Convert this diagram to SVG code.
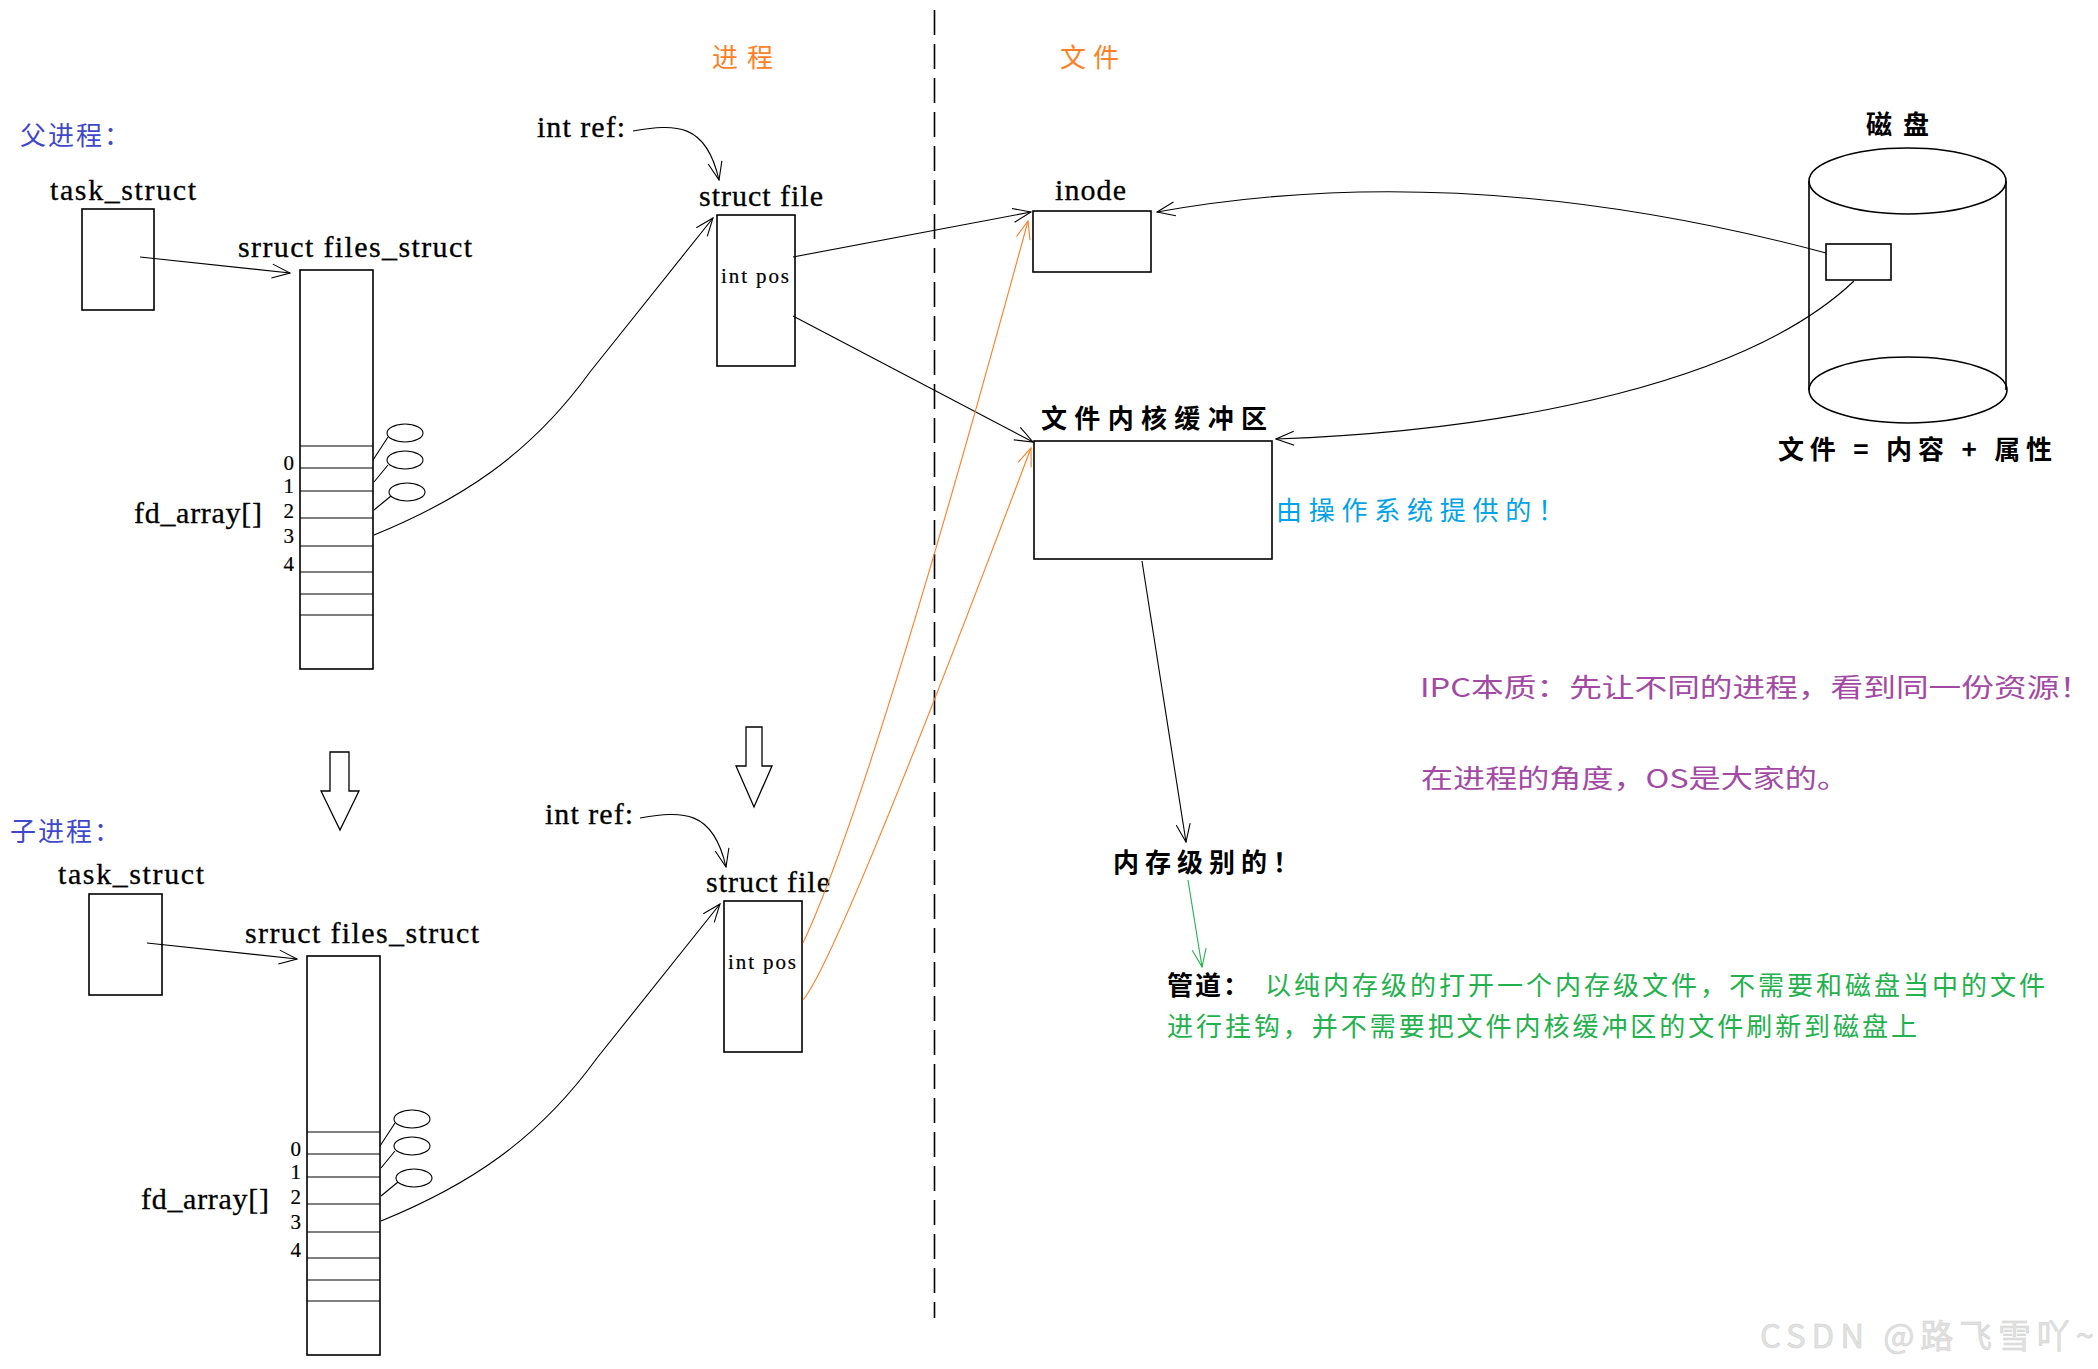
<svg xmlns="http://www.w3.org/2000/svg" width="2098" height="1369" viewBox="0 0 2098 1369">
<style>
.bx{fill:none;stroke:#000;stroke-width:1.6}
.ln{fill:none;stroke:#000;stroke-width:1.1}
.el{fill:none;stroke:#000;stroke-width:1.1}
.lat{font-family:"Liberation Serif",serif;font-size:30px;fill:#000;stroke:#000;stroke-width:0.3}
.sm{font-family:"Liberation Serif",serif;font-size:21px;fill:#000;stroke:#000;stroke-width:0.2}
.cj{font-family:"Noto Sans CJK SC",sans-serif;font-size:26px}
.blk{fill:#000}
.ind{fill:#3f48cc}
.org{fill:#ff7f27}
.cyan{fill:#00a2e8}
.pur{fill:#a349a4}
.grn{fill:#22b14c}
.con{fill:none;stroke:#000;stroke-width:1.1;marker-end:url(#ah)}
.conO{fill:none;stroke:#ff7f27;stroke-width:1.1;marker-end:url(#ahO)}
.conG{fill:none;stroke:#22b14c;stroke-width:1.1;marker-end:url(#ahG)}
.big{fill:#fff;stroke:#000;stroke-width:1.3}
</style>
<defs>
<marker id="ah" viewBox="0 0 20 20" refX="19" refY="10" markerWidth="20" markerHeight="20" markerUnits="userSpaceOnUse" orient="auto"><path d="M1,3 L19,10 L1,17" fill="none" stroke="#000" stroke-width="1.1"/></marker>
<marker id="ahO" viewBox="0 0 20 20" refX="19" refY="10" markerWidth="20" markerHeight="20" markerUnits="userSpaceOnUse" orient="auto"><path d="M1,3 L19,10 L1,17" fill="none" stroke="#ff7f27" stroke-width="1.1"/></marker>
<marker id="ahG" viewBox="0 0 20 20" refX="19" refY="10" markerWidth="20" markerHeight="20" markerUnits="userSpaceOnUse" orient="auto"><path d="M1,3 L19,10 L1,17" fill="none" stroke="#22b14c" stroke-width="1.1"/></marker>
<g id="filesTpl">
<rect class="bx" x="300" y="270" width="73" height="399"/>
<path class="ln" d="M300,446H373M300,468H373M300,491H373M300,518H373M300,546H373M300,572H373M300,594H373M300,615H373" stroke-width="1.6"/>
<text class="sm" x="294" y="470" text-anchor="end">0</text>
<text class="sm" x="294" y="493" text-anchor="end">1</text>
<text class="sm" x="294" y="518" text-anchor="end">2</text>
<text class="sm" x="294" y="543" text-anchor="end">3</text>
<text class="sm" x="294" y="571" text-anchor="end">4</text>
<text class="lat" x="134" y="523" textLength="128">fd_array[]</text>
<ellipse class="el" cx="405" cy="433" rx="18" ry="9"/>
<ellipse class="el" cx="405" cy="460" rx="18" ry="9"/>
<ellipse class="el" cx="407" cy="492" rx="18" ry="9"/>
<path class="ln" d="M388,437L373,460M388,465L374,482M391,496L374,510"/>
</g>
</defs>

<!-- parent process -->
<g id="parent-label"><text class="cj ind" x="20" y="145" font-size="29" textLength="110">父进程：</text></g>
<g id="parent-task">
<text class="lat" x="50" y="200" textLength="146">task_struct</text>
<rect class="bx" x="82" y="209" width="72" height="101"/>
</g>
<g id="parent-files">
<text class="lat" x="238" y="257" textLength="234">srruct files_struct</text>
<use href="#filesTpl"/>
</g>
<g id="parent-ref"><text class="lat" x="537" y="137" textLength="88">int ref:</text></g>
<g id="parent-file">
<text class="lat" x="699" y="206" textLength="124">struct file</text>
<rect class="bx" x="717" y="215" width="78" height="151"/>
<text class="sm" x="721" y="283" textLength="68">int pos</text>
</g>
<g id="fork-arrow-left"><polygon class="big" points="330,752 349,752 349,791 359,791 340,830 321,791 330,791"/></g>
<g id="fork-arrow-mid"><polygon class="big" points="746,727 762,727 762,766 772,766 754,807 736,766 746,766"/></g>

<!-- child process -->
<g id="child-label"><text class="cj ind" x="10" y="841" font-size="29" textLength="110">子进程：</text></g>
<g id="child-task">
<text class="lat" x="58" y="884" textLength="146">task_struct</text>
<rect class="bx" x="89" y="894" width="73" height="101"/>
</g>
<g id="child-files">
<text class="lat" x="245" y="943" textLength="234">srruct files_struct</text>
<use href="#filesTpl" transform="translate(7,686)"/>
</g>
<g id="child-ref"><text class="lat" x="545" y="824" textLength="88">int ref:</text></g>
<g id="child-file">
<text class="lat" x="706" y="892" textLength="124">struct file</text>
<rect class="bx" x="724" y="901" width="78" height="151"/>
<text class="sm" x="728" y="969" textLength="68">int pos</text>
</g>

<!-- section labels and divider -->
<g id="section-labels">
<text class="cj org" x="712" y="67" font-size="27" textLength="61">进程</text>
<text class="cj org" x="1060" y="67" font-size="27" textLength="59">文件</text>
</g>
<g id="divider"><line x1="934.5" y1="10" x2="934.5" y2="1318" stroke="#000" stroke-width="1.6" stroke-dasharray="25,9"/></g>

<!-- file side -->
<g id="inode">
<text class="lat" x="1055" y="200" textLength="71">inode</text>
<rect class="bx" x="1033" y="211" width="118" height="61"/>
</g>
<g id="buffer">
<text class="cj blk" x="1041" y="428" font-weight="bold" textLength="226">文件内核缓冲区</text>
<rect class="bx" x="1034" y="441" width="238" height="118"/>
<text class="cj cyan" x="1276" y="520" font-size="27" textLength="288">由操作系统提供的！</text>
</g>
<g id="disk">
<text class="cj blk" x="1866" y="134" font-weight="bold" textLength="63">磁盘</text>
<path class="bx" d="M1809,181V390M2006,181V390"/>
<ellipse class="bx" cx="1907.5" cy="181" rx="98.5" ry="33" fill="#fff"/>
<ellipse class="bx" cx="1908" cy="390" rx="99" ry="33"/>
<rect class="bx" x="1826" y="244" width="65" height="36"/>
<text class="cj blk" x="1778" y="459" font-weight="bold" textLength="274">文件 = 内容 + 属性</text>
</g>
<g id="memory-level">
<text class="cj blk" x="1113" y="872" font-weight="bold" font-size="27" textLength="186">内存级别的！</text>
</g>
<g id="pipe-note">
<text class="cj blk" x="1167" y="995" font-weight="bold" textLength="82">管道：</text>
<text class="cj grn" x="1265" y="995" font-size="23" textLength="780">以纯内存级的打开一个内存级文件，不需要和磁盘当中的文件</text>
<text class="cj grn" x="1167" y="1036" font-size="23" textLength="750">进行挂钩，并不需要把文件内核缓冲区的文件刷新到磁盘上</text>
</g>
<g id="ipc-note">
<text class="cj pur" x="1420" y="697" font-size="28" textLength="672" lengthAdjust="spacingAndGlyphs">IPC本质：先让不同的进程，看到同一份资源！</text>
<text class="cj pur" x="1421" y="788" font-size="28" textLength="428" lengthAdjust="spacingAndGlyphs">在进程的角度，OS是大家的。</text>
</g>
<g id="watermark"><text x="1760" y="1348" font-family="Noto Sans CJK SC,sans-serif" font-size="33" fill="#e2e2e2" stroke="#cfcfcf" stroke-width="0.5" textLength="334">CSDN @路飞雪吖~</text></g>

<!-- connectors -->
<g id="connectors">
<path class="con" d="M140,257L290,273"/>
<path class="con" d="M147,943L297,959"/>
<path class="con" d="M374,535C460,500 530,455 590,372L713,218"/>
<path class="con" d="M381,1221C467,1186 537,1141 597,1058L720,904"/>
<path class="con" d="M633,131C675,124 706,122 719,180"/>
<path class="con" d="M640,818C682,811 713,809 726,867"/>
<path class="con" d="M793,257L1031,212"/>
<path class="con" d="M793,316L1033,442"/>
<path class="conO" d="M803,943Q870,801 1028,221"/>
<path class="conO" d="M803,1000Q838,959 1031,448"/>
<path class="con" d="M1826,253C1620,198 1390,170 1157,212"/>
<path class="con" d="M1854,281C1750,380 1520,430 1276,439"/>
<path class="con" d="M1142,561L1186,842"/>
<path class="conG" d="M1188,880L1202,967"/>
</g>
</svg>
